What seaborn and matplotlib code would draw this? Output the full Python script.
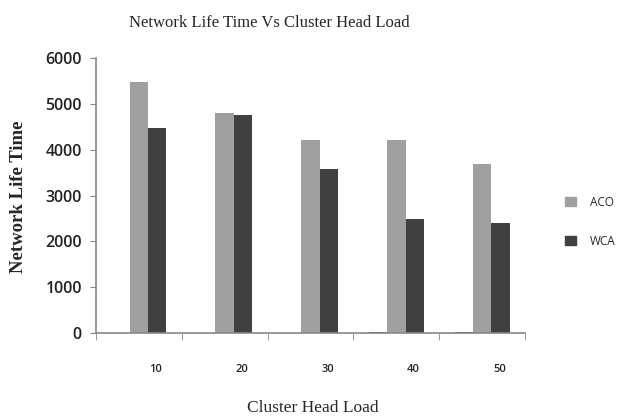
import numpy as np
import pandas as pd
import matplotlib.pyplot as plt
import matplotlib.transforms as mtransforms
from matplotlib.patches import Patch
import seaborn as sns

loads = ["10", "20", "30", "40", "50"]
aco = [5480, 4800, 4210, 4210, 3690]
wca = [4480, 4760, 3580, 2490, 2400]
extra = [0, 0, 10, 20, 20]   # hidden third series, only a sliver shows

df = pd.DataFrame({
    "Load": loads * 3,
    "Series": ["Extra"] * 5 + ["ACO"] * 5 + ["WCA"] * 5,
    "Value": extra + aco + wca,
})

sns.set_style("white")
plt.rcParams['font.family'] = ['Open Sans', 'DejaVu Sans']

fig = plt.figure(figsize=(6.26, 4.18), dpi=100)
ax = fig.add_axes([0.153, 0.203, 0.686, 0.658])

colors = {"Extra": "#3a3a3a", "ACO": "#a0a0a0", "WCA": "#404040"}
sns.barplot(data=df, x="Load", y="Value", hue="Series",
            hue_order=["Extra", "ACO", "WCA"], palette=colors,
            width=0.64, ax=ax, legend=False, edgecolor="none")

ax.set_ylim(0, 6000)
ax.set_xlim(-0.5, 4.5)
ax.set_yticks([0, 1000, 2000, 3000, 4000, 5000, 6000])
ax.tick_params(axis="y", labelsize=11.5, colors="#222222", length=4,
               direction="out", left=True, pad=6)
for lab in ax.get_yticklabels():
    lab.set_fontweight("semibold")

# category boundary ticks, labels shifted under the bar pairs
ax.set_xticks(np.arange(-0.5, 5, 1), minor=True)
ax.tick_params(axis="x", which="minor", length=5, direction="out",
               bottom=True, color="#888888")
ax.tick_params(axis="x", which="major", length=0, labelsize=8,
               colors="#222222", pad=22)
offset = mtransforms.ScaledTranslation(0.17, 0, fig.dpi_scale_trans)
for lab in ax.get_xticklabels():
    lab.set_transform(lab.get_transform() + offset)
    lab.set_fontweight("semibold")

for side in ["top", "right"]:
    ax.spines[side].set_visible(False)
for side in ["left", "bottom"]:
    ax.spines[side].set_color("#888888")
    ax.spines[side].set_linewidth(1.2)
ax.tick_params(axis="y", color="#888888")

ax.set_xlabel("")
ax.set_ylabel("")
fig.text(0.43, 0.945, "Network Life Time Vs Cluster Head Load",
         ha="center", va="center", family="Liberation Serif", fontsize=12)
fig.text(0.5, 0.024, "Cluster Head Load", ha="center", va="center",
         family="Liberation Serif", fontsize=12.5)
fig.text(0.03, 0.53, "Network Life Time", ha="center", va="center",
         rotation=90, family="Liberation Serif", fontsize=13.5,
         fontweight="bold")

handles = [Patch(color=colors["ACO"], label="ACO"),
           Patch(color=colors["WCA"], label="WCA")]
fig.legend(handles=handles, loc="center left", bbox_to_anchor=(0.895, 0.47),
           frameon=False, fontsize=8.5, handlelength=0.9, handleheight=0.9,
           labelspacing=2.2, handletextpad=1.2, borderaxespad=0)

fig.savefig("out.png", dpi=100)
